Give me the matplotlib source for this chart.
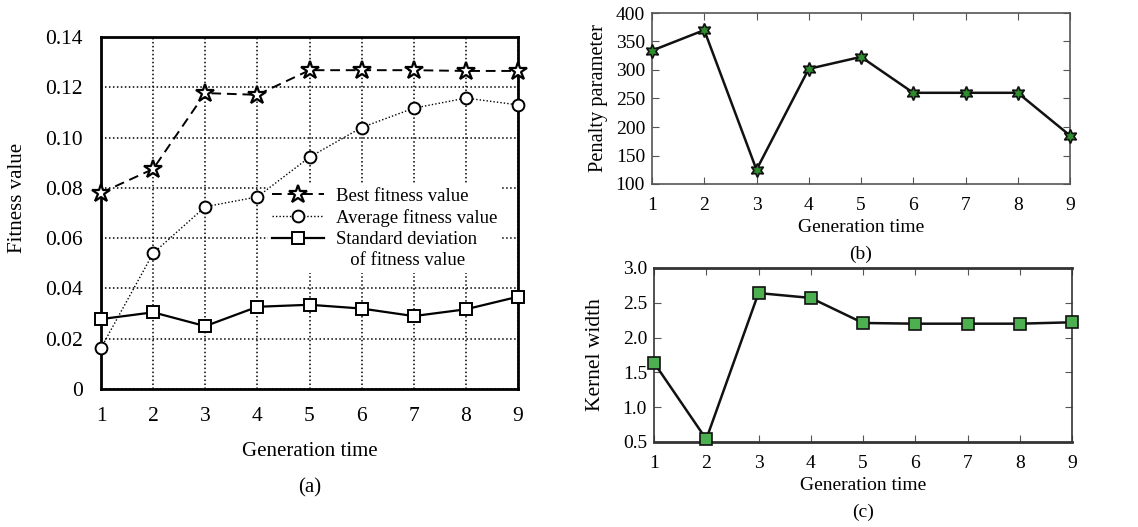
import matplotlib
matplotlib.use("Agg")
import matplotlib.pyplot as plt
from matplotlib.lines import Line2D

plt.rcParams['font.family'] = ['Liberation Serif', 'DejaVu Serif']
plt.rcParams['mathtext.fontset'] = 'stix'

generations = [1, 2, 3, 4, 5, 6, 7, 8, 9]
best_fitness = [0.078, 0.0875, 0.1177, 0.117, 0.1268, 0.1268, 0.1268, 0.1265, 0.1265]
avg_fitness = [0.0163, 0.054, 0.0725, 0.0764, 0.0922, 0.104, 0.1117, 0.1157, 0.113]
std_fitness = [0.0278, 0.0305, 0.025, 0.0327, 0.0335, 0.032, 0.029, 0.0317, 0.0367]
penalty = [334, 370, 125, 302, 323, 260, 260, 260, 185]
kernel_width = [1.64, 0.54, 2.64, 2.57, 2.21, 2.2, 2.2, 2.2, 2.22]

a_yticks = [0, 0.02, 0.04, 0.06, 0.08, 0.10, 0.12, 0.14]
a_yticklabels = ['0', '0.02', '0.04', '0.06', '0.08', '0.10', '0.12', '0.14']
b_yticks = [100, 150, 200, 250, 300, 350, 400]
c_yticks = [0.5, 1.0, 1.5, 2.0, 2.5, 3.0]
c_yticklabels = ['0.5', '1.0', '1.5', '2.0', '2.5', '3.0']

W, H = 1138, 527
fig = plt.figure(figsize=(W / 100, H / 100), dpi=100)

def px_axes(l, t, r, b):
    return fig.add_axes([l / W, 1 - b / H, (r - l) / W, (b - t) / H])

FS = 14

# ---------- (a) ----------
ax = px_axes(101, 37, 518, 389)
ax.plot(generations, best_fitness, color='black', lw=1.4, ls=(0, (5, 3)),
        marker='*', ms=13.5, mfc='white', mec='black', mew=1.6, clip_on=False, zorder=4,
        label='Best fitness value')
ax.plot(generations, avg_fitness, color='black', lw=1.0, ls=(0, (1, 1.5)),
        marker='o', ms=8.5, mfc='white', mec='black', mew=1.4, clip_on=False, zorder=4,
        label='Average fitness value')
ax.plot(generations, std_fitness, color='black', lw=1.6, ls='-',
        marker='s', ms=9, mfc='white', mec='black', mew=1.4, clip_on=False, zorder=4,
        label='Standard deviation')
ax.set_xlim(1, 9)
ax.set_ylim(0, 0.14)
ax.set_xticks(generations)
ax.set_yticks(a_yticks)
ax.set_yticklabels(a_yticklabels)
ax.tick_params(length=0, labelsize=15.5, pad=13)
ax.grid(True, color='black', ls=(0, (1, 1.6)), lw=1.1)
for s in ax.spines.values():
    s.set_linewidth(2)
ax.set_xlabel('Generation time', fontsize=15)
ax.xaxis.label.set_va('center')
ax.xaxis.set_label_coords(0.5, (389 - 452) / 352)
ax.set_ylabel('Fitness value', fontsize=15)
ax.yaxis.label.set_va('center')
ax.yaxis.set_label_coords((18 - 101) / 417, (389 - 198) / 352)
ax.text(0.5, (389 - 488) / 352, '(a)', transform=ax.transAxes, ha='center', va='center', fontsize=15)

handles, labels = ax.get_legend_handles_labels()
handles.append(Line2D([], [], color='none'))
labels.append('   of fitness value')
leg = ax.legend(handles, labels, loc='upper left', bbox_to_anchor=((268 - 101) / 417, (389 - 184) / 352),
                frameon=True, fontsize=13.5, handlelength=2.8, handletextpad=0.6,
                labelspacing=0.22, borderpad=0.2, borderaxespad=0)
leg.get_frame().set_facecolor('white')
leg.get_frame().set_edgecolor('none')
leg.get_frame().set_alpha(1)
leg.set_zorder(3)

# ---------- (b) ----------
star6 = (6, 1, 0)
bx = px_axes(652, 13, 1070, 184)
bx.plot(generations, penalty, color='#111111', lw=1.8, marker=star6, ms=10,
        mfc='#2e8b2e', mec='#111111', mew=1.2, clip_on=False, zorder=4)
bx.set_xlim(1, 9)
bx.set_ylim(100, 400)
bx.set_xticks(generations)
bx.set_yticks(b_yticks)
bx.tick_params(direction='in', length=5, labelsize=FS, top=True, right=True, color='#555555')
bx.tick_params(axis='x', pad=9)
bx.tick_params(axis='y', pad=5)
for s in bx.spines.values():
    s.set_linewidth(1.2)
    s.set_color('#555555')
bx.set_xlabel('Generation time', fontsize=FS)
bx.xaxis.label.set_va('center')
bx.xaxis.set_label_coords(0.5, (184 - 227) / 171)
bx.set_ylabel('Penalty parameter', fontsize=14.7)
bx.yaxis.label.set_va('center')
bx.yaxis.set_label_coords((599 - 652) / 418, 0.5)
bx.text(0.5, (184 - 254) / 171, '(b)', transform=bx.transAxes, ha='center', va='center', fontsize=FS)

# ---------- (c) ----------
cx = px_axes(654, 268, 1072, 442)
cx.plot(generations, kernel_width, color='#111111', lw=1.8, marker='s', ms=8,
        mfc='#4caf50', mec='#111111', mew=1.2, clip_on=False, zorder=4)
cx.set_xlim(1, 9)
cx.set_ylim(0.5, 3.0)
cx.set_xticks(generations)
cx.set_yticks(c_yticks)
cx.set_yticklabels(c_yticklabels)
cx.tick_params(direction='in', length=5, labelsize=FS, top=True, right=True, color='#555555')
cx.tick_params(axis='x', pad=9)
cx.tick_params(axis='y', pad=5)
for s in cx.spines.values():
    s.set_linewidth(1.2)
    s.set_color('#333333')
cx.spines['bottom'].set_linewidth(2)
cx.spines['top'].set_linewidth(2)
cx.set_xlabel('Generation time', fontsize=FS)
cx.xaxis.label.set_va('center')
cx.xaxis.set_label_coords(0.5, (442 - 485) / 174)
cx.set_ylabel('Kernel width', fontsize=15.5)
cx.yaxis.label.set_va('center')
cx.yaxis.set_label_coords((595 - 654) / 418, 0.5)
cx.text(0.5, (442 - 512) / 174, '(c)', transform=cx.transAxes, ha='center', va='center', fontsize=FS)

fig.savefig('out.png', dpi=100)
